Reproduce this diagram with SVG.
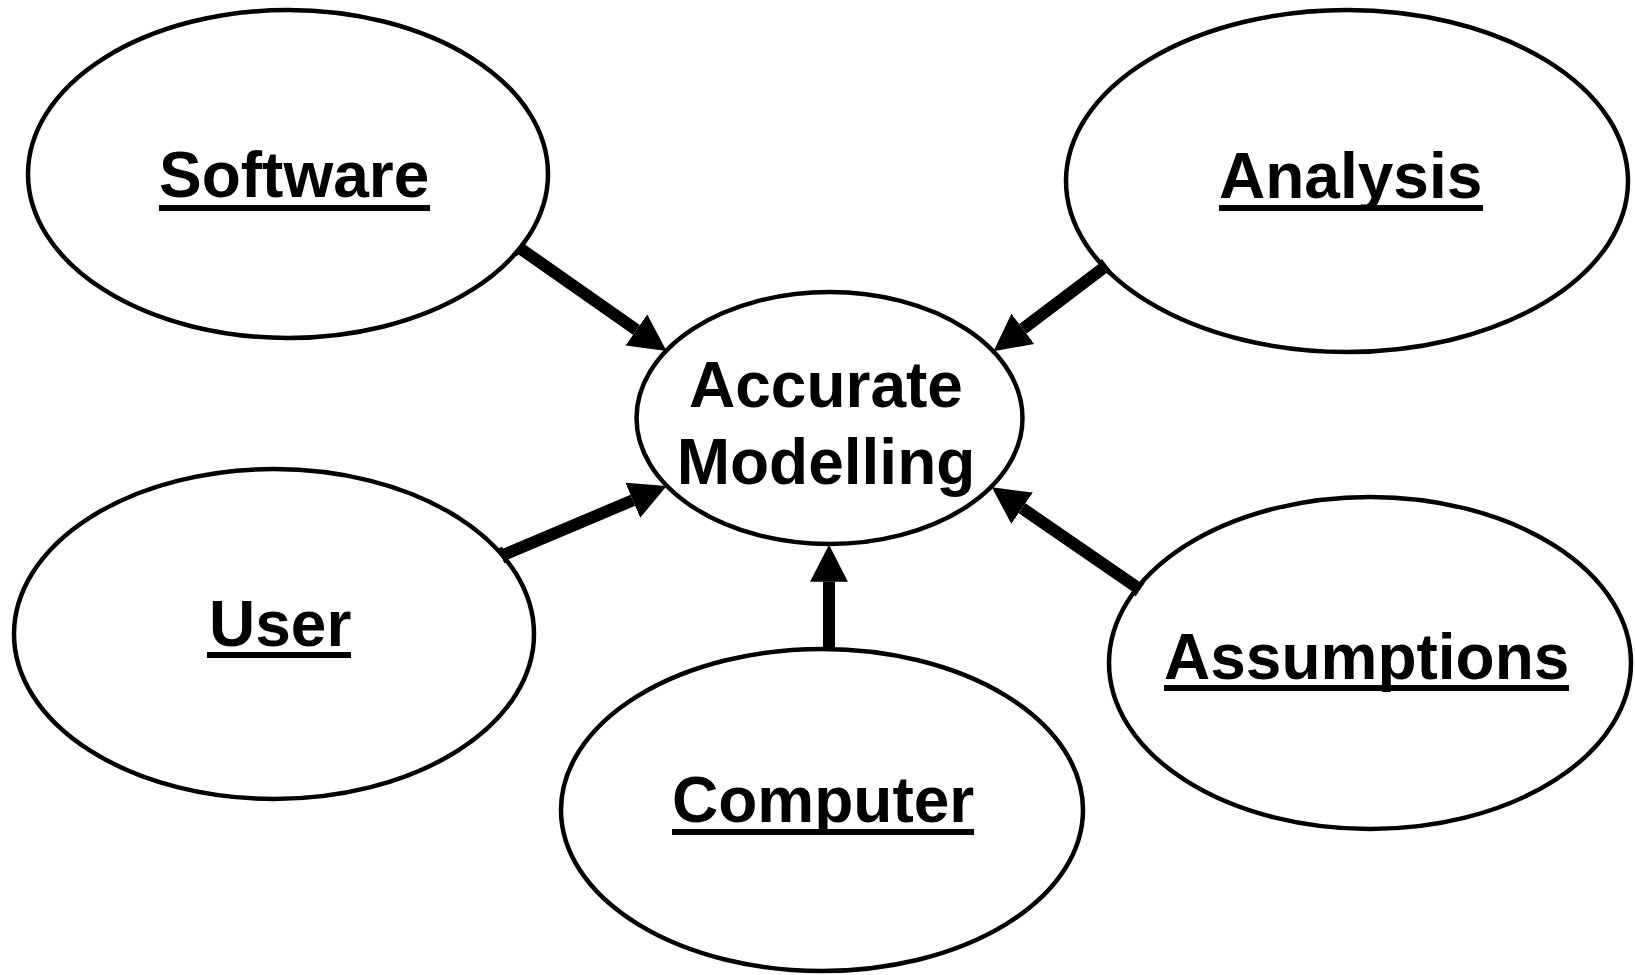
<svg xmlns="http://www.w3.org/2000/svg" width="1635" height="975" viewBox="0 0 1635 975">
  <style>
    .node ellipse { fill: #ffffff; stroke: #000000; stroke-width: 4.5; }
    .label { font-family: "Liberation Sans", Arial, sans-serif; font-weight: bold; font-size: 64px; fill: #000000; }
    .uline { fill: #000000; }
    .shaft { stroke: #000000; stroke-width: 12; fill: none; marker-end: url(#head); }
    .tick { stroke: #000000; stroke-width: 4.5; }
  </style>
  <defs>
    <marker id="head" markerUnits="userSpaceOnUse" markerWidth="40" markerHeight="40" viewBox="0 -19 38 38" refX="0" refY="0" orient="auto">
      <path d="M0,-18 L35,0 L0,18 Z" fill="#000000"/>
    </marker>
  </defs>
  <rect width="1635" height="975" fill="#ffffff"/>

  <g id="software" class="node">
    <ellipse cx="288" cy="174" rx="260" ry="164"/>
    <text class="label" x="159" y="197">Software</text>
    <rect class="uline" x="159" y="205" width="271" height="6"/>
  </g>

  <g id="analysis" class="node">
    <ellipse cx="1347" cy="181" rx="281" ry="171"/>
    <text class="label" x="1219" y="198">Analysis</text>
    <rect class="uline" x="1219" y="205" width="264" height="6"/>
  </g>

  <g id="user" class="node">
    <ellipse cx="274" cy="634" rx="260" ry="165"/>
    <text class="label" x="209" y="646">User</text>
    <rect class="uline" x="207" y="652" width="144" height="6"/>
  </g>

  <g id="computer" class="node">
    <ellipse cx="822" cy="810" rx="261" ry="161"/>
    <text class="label" x="672" y="822">Computer</text>
    <rect class="uline" x="672" y="829" width="302" height="6"/>
  </g>

  <g id="assumptions" class="node">
    <ellipse cx="1370" cy="663" rx="261" ry="166"/>
    <text class="label" x="1164" y="679">Assumptions</text>
    <rect class="uline" x="1164" y="685" width="405" height="6"/>
  </g>

  <g id="accurate-modelling" class="node">
    <ellipse cx="829.5" cy="418" rx="193" ry="126"/>
    <text class="label" x="826" y="407" text-anchor="middle">Accurate</text>
    <text class="label" x="826" y="484" text-anchor="middle">Modelling</text>
  </g>

  <g id="connectors">
    <!-- Software -> Accurate Modelling -->
    <line class="shaft" x1="520" y1="248.3" x2="636.4" y2="329.9"/>
    <line class="tick" x1="524.6" y1="241.8" x2="515.4" y2="254.8"/>
    <!-- Analysis -> Accurate Modelling -->
    <line class="shaft" x1="1105" y1="266.7" x2="1022.9" y2="328.9"/>
    <line class="tick" x1="1100.2" y1="260.3" x2="1109.8" y2="273.1"/>
    <!-- User -> Accurate Modelling -->
    <line class="shaft" x1="503.3" y1="555" x2="632.8" y2="500.3"/>
    <line class="tick" x1="500.2" y1="547.6" x2="506.4" y2="562.4"/>
    <!-- Computer -> Accurate Modelling -->
    <line class="shaft" x1="829" y1="649" x2="829" y2="581.7"/>
    <!-- Assumptions -> Accurate Modelling -->
    <line class="shaft" x1="1138.3" y1="588.3" x2="1022.1" y2="508.2"/>
    <line class="tick" x1="1142.8" y1="581.7" x2="1133.8" y2="594.9"/>
  </g>
</svg>
